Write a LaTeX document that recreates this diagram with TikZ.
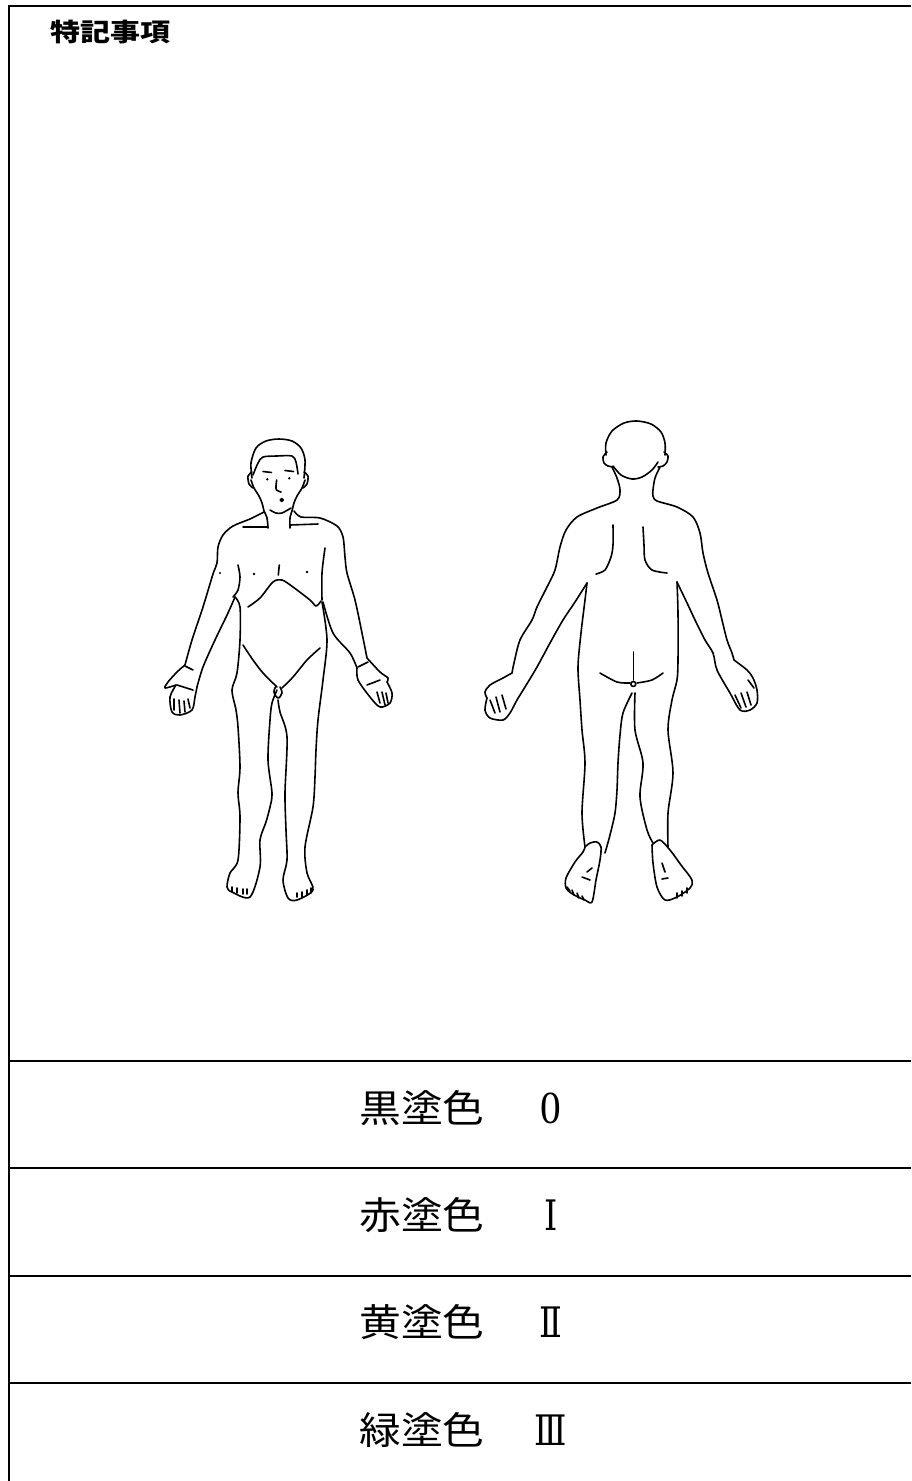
\documentclass[tikz,border=0pt]{standalone}
\usepackage{fontspec}
\usepackage{tikz}
\newfontfamily\jpfont{Noto Sans CJK JP}
\newfontfamily\numfont{Liberation Serif}
\newfontfamily\romfont{DejaVu Serif}

\begin{document}
\begin{tikzpicture}[x=1pt,y=-1pt,
  body/.style={line width=1.6pt, line join=round, line cap=round},
  rule/.style={line width=1.8pt},
  dot/.style={fill=black},
  word/.style={font=\jpfont\fontsize{38}{38}\selectfont, inner sep=0pt, xscale=1.1},
  numeral/.style={font=\numfont\fontsize{46}{46}\selectfont, inner sep=0pt, xscale=0.9},
  roman/.style={font=\romfont\fontsize{42}{42}\selectfont, inner sep=0pt, xscale=0.8}]
\useasboundingbox (0,0) rectangle (911,1481);

% frame and rows
\draw[rule] (9,1481) -- (9,6) -- (911,6);
\foreach \y in {1061,1168,1276,1383}
  \draw[rule] (9,\y) -- (911,\y);
\node[inner sep=0pt, font=\jpfont\bfseries\fontsize{25}{25}\selectfont, xscale=1.2] (title) at (110,32) {特記事項};

\foreach \y/\word/\name in {1108/黒塗色/black, 1215/赤塗色/red, 1322/黄塗色/yellow, 1430/緑塗色/green}
  \node[word] (\name) at (422,\y) {\word};
\node[numeral] (black num) at (551,1108) {0};
\foreach \y/\num/\name in {1215/Ⅰ/red, 1322/Ⅱ/yellow, 1430/Ⅲ/green}
  \node[roman] (\name num) at (551,\y) {\num};

% front: head
\draw[body] plot[smooth] coordinates {(252,478) (251,463) (256,448) (266,441) (279,439) (292,441) (301,448) (305,460) (304,478)};
\draw[body] plot[smooth] coordinates {(253,475) (258,463) (263,457) (277,456) (292,456) (296,462) (298,474)};
\draw[body] plot[smooth] coordinates {(251,480) (254,488) (259,496) (262,503) (264,511)};
\draw[body] plot[smooth] coordinates {(305,480) (302,488) (297,496) (294,503) (292,511)};
\draw[body] plot[smooth] coordinates {(252,472) (248,476) (249,484) (253,488)};
\draw[body] plot[smooth] coordinates {(304,472) (308,476) (307,484) (303,488)};
\draw[body] plot[smooth] coordinates {(270,510) (276,513) (282,513) (291,508)};
\draw[body] (263,471.5) -- (271.5,472.5);
\draw[body] (285,470.5) -- (293.5,471.5);
\fill[dot] (267.3,479.3) circle (1.3) (289.3,478.3) circle (1.3);
\draw[body] plot[smooth] coordinates {(276.7,480) (276,486) (276.5,490) (281,492)};
\draw[body] (281.7,500) circle (1.5);
% front: neck and shoulders
\draw[body] plot[smooth] coordinates {(264,511) (267,518) (268,528)};
\draw[body] plot[smooth] coordinates {(292,511) (290,518) (290,528)};
\draw[body] (243,527) -- (268,527);
\draw[body] (290,525) -- (318,524);
% front: left arm
\draw[body] plot[smooth] coordinates {(264,512) (250,519) (233,526) (223,535) (218,547) (217,563) (213,574) (203,607) (192,640) (185,665)};
\draw[body] plot[smooth, tension=0.5] coordinates {(185,665) (177,672) (168,682) (165,688) (176,685)};
\draw[body] plot[smooth, tension=0.5] coordinates {(176,685) (170,697) (172,712) (180,715) (192,710) (195,697) (197,687)};
\draw[body] plot[smooth] coordinates {(235,597) (228,613) (215,640) (203,667) (197,687)};
\draw[body] (185,666) -- (193,670);
\draw[body] (177,685) -- (193,690);
\draw[body] (174,699) -- (174,710) (179,700) -- (180,713) (184,701) -- (185,712) (188,699) -- (190,708);
% front: right arm
\draw[body] plot[smooth] coordinates {(294,511) (301,517) (320,518) (337,526) (343,537) (345,557) (347,573) (355,600) (362,633) (367,658)};
\draw[body] plot[smooth, tension=0.5] coordinates {(367,658) (380,672) (388,678) (387,682)};
\draw[body] plot[smooth, tension=0.5] coordinates {(387,682) (392,693) (390,703) (380,707) (370,697) (358,680) (357,668)};
\draw[body] plot[smooth] coordinates {(323,602) (333,633) (350,653) (357,668)};
\draw[body] (358,667) -- (368,662);
\draw[body] (367,685) -- (380,680);
\draw[body] (377,692) -- (380,703) (382,692) -- (385,705) (386,693) -- (388,703);
% front: trunk and legs
\draw[body] plot[smooth] coordinates {(238,565) (240,577) (238,590) (233,597)};
\draw[body] plot[smooth] coordinates {(325,548) (322,573) (322,600)};
\draw[body] plot[smooth] coordinates {(235,597) (240,607) (240,640) (237,673) (232,690) (236,710) (238,727) (240,767) (238,793) (240,817) (238,860) (230,873) (227,887) (232,892) (250,897) (260,867) (260,840) (266,822) (270,807) (272,793) (268,760) (270,720) (272,703) (277,690)};
\draw[body] plot[smooth] coordinates {(322,602) (327,640) (323,680) (318,720) (316,750) (315,777) (313,807) (305,847) (307,873) (313,890) (297,900) (288,898) (283,880) (287,860) (286,830) (285,793) (287,737) (280,712) (278,700)};
\draw[body] plot[smooth] coordinates {(248,607) (260,598) (273,582) (282,580) (293,587) (310,600) (316,606) (321,601)};
\draw[body] (279.3,565) -- (278.3,575);
\fill[dot] (254,574) circle (1.3) (307,572) circle (1.3) (220,573) circle (1.1);
\draw[body] plot[smooth] coordinates {(243,645) (253,660) (263,673) (277,687)};
\draw[body] plot[smooth] coordinates {(320,648) (307,660) (293,677) (282,688)};
\draw[body] plot[smooth, tension=0.6] coordinates {(276,686) (274,692) (278,698) (282,693) (280,687)};
\draw[body] (232,887) -- (232,892) (237,888) -- (237,893) (243,889) -- (243,894) (247,889) -- (247,894);
\draw[body] (297,893) -- (297,897) (302,892) -- (302,897) (307,890) -- (307,895) (311,888) -- (311,893);

% back: head
\draw[body] plot[smooth] coordinates {(606,455) (606,443) (612,431) (624,423) (637,421) (651,424) (661,432) (665,443) (665,455)};
\draw[body] plot[smooth] coordinates {(613,466) (621,475) (632,479) (642,477) (652,470) (658,462)};
\draw[body] plot[smooth] coordinates {(607,452) (603,457) (604,463) (608,466) (613,467)};
\draw[body] plot[smooth] coordinates {(664,452) (668,456) (667,462) (663,466) (658,467)};
% back: left arm
\draw[body] plot[smooth] coordinates {(612,467) (617,478) (620,490) (617,500) (597,508) (577,517) (566,530) (560,547) (555,570) (547,587) (537,607) (532,620) (520,640) (514,663) (512,673)};
\draw[body] plot[smooth, tension=0.5] coordinates {(512,673) (503,678) (490,685) (485,692) (487,698)};
\draw[body] plot[smooth] coordinates {(487,698) (485,710) (490,718) (503,720) (510,713) (517,700) (525,687) (537,667) (550,643) (563,620) (575,602) (587,583)};
\draw[body] (490,700) -- (495,713) (496,697) -- (500,712) (502,695) -- (506,709);
% back: right arm
\draw[body] plot[smooth] coordinates {(660,467) (655,478) (653,490) (653,496) (657,501) (677,507) (693,517) (700,533) (703,553) (708,573) (717,600) (722,620) (727,640) (732,653) (734,660)};
\draw[body] plot[smooth, tension=0.5] coordinates {(734,660) (747,670) (753,678) (757,690) (757,703) (750,710) (740,710) (730,693) (717,670) (713,653) (705,640) (695,620) (688,605) (677,582)};
\draw[body] (735,695) -- (741,708) (741,693) -- (746,707) (747,692) -- (751,705) (748,680) -- (754,688);
% back: trunk
\draw[body] plot[smooth] coordinates {(613,525) (613,545) (611,557) (605,570) (596,574)};
\draw[body] plot[smooth] coordinates {(643,527) (644,545) (645,560) (652,570) (667,573)};
\draw[body] plot[smooth] coordinates {(600,673) (617,682) (630,683)};
\draw[body] plot[smooth] coordinates {(637,683) (652,680) (663,673)};
\draw[body] (633.3,652) -- (633.3,680);
\draw[body] (633.3,684) circle (2.5);
% back: legs and feet
\draw[body] plot[smooth] coordinates {(587,583) (585,600) (581,633) (578,667) (580,700) (582,730) (585,763) (582,813) (585,847)};
\draw[body] plot[smooth, tension=0.5] coordinates {(585,847) (590,843) (597,842) (601,847) (600,860) (596,880) (592,902) (585,900) (578,897) (571,893) (566,888) (566,878) (575,862) (583,852) (585,847)};
\draw[body] plot[smooth] coordinates {(605,853) (610,835) (615,813) (617,790) (618,763) (620,735) (623,713) (632,693)};
\draw[body] plot[smooth] coordinates {(635,693) (635,730) (643,763) (640,797) (647,830) (653,843)};
\draw[body] plot[smooth, tension=0.5] coordinates {(652,845) (660,840) (670,850) (681,865) (692,880) (690,888) (677,897) (665,900) (657,887) (653,863) (652,845)};
\draw[body] plot[smooth] coordinates {(668,847) (668,813) (673,773) (668,730) (672,700) (677,680) (678,660) (678,613) (677,582)};
\draw[body] (567,887) -- (570,891) (572,890) -- (574,895) (577,893) -- (579,898) (582,896) -- (584,900);
\draw[body] (677,893) -- (677,898) (682,891) -- (682,896) (687,888) -- (687,893);
\draw[body] (587,872) -- (592,868) (582,877) -- (590,880);
\draw[body] (662,863) -- (665,872) (662,879) -- (668,878);
\end{tikzpicture}
\end{document}
